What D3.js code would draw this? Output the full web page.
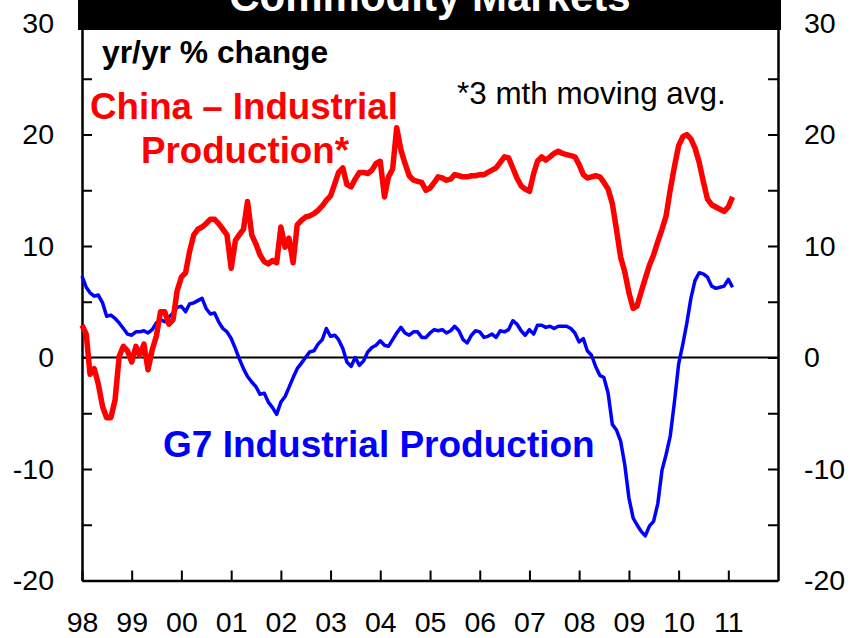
<!DOCTYPE html>
<html>
<head>
<meta charset="utf-8">
<script src="https://cdn.jsdelivr.net/npm/d3@7"></script>
<style>
  body { margin: 0; background: #fff; }
  svg { display: block; font-family: "Liberation Sans", Arial, sans-serif; }
</style>
</head>
<body>
<script>
// monthly, Jan 1998 onwards (yr/yr %, China is a 3 mth moving avg)
const chinaIP = [
  2.9, 2.1, -1.5, -1.0, -2.4, -4.4, -5.4, -5.4, -3.8, 0.1,
  1.0, 0.6, -0.4, 1.0, 0.2, 1.2, -1.1, 0.7, 1.9, 4.1,
  4.1, 3.0, 3.4, 6.0, 7.2, 7.6, 9.5, 11.0, 11.5, 11.7,
  12.0, 12.4, 12.4, 12.0, 11.5, 11.0, 8.0, 10.5, 11.0, 11.5,
  14.0, 11.0, 10.2, 9.2, 8.6, 8.4, 8.7, 8.5, 11.7, 9.9,
  10.7, 8.5, 11.9, 12.3, 12.6, 12.7, 12.9, 13.2, 13.6, 14.1,
  14.5, 15.6, 16.6, 17.0, 15.5, 15.3, 16.0, 16.6, 16.6, 16.5,
  16.8, 17.4, 17.6, 14.4, 16.2, 16.9, 20.6, 18.6, 17.4, 16.3,
  15.9, 15.8, 15.7, 15.0, 15.2, 15.7, 16.2, 16.1, 15.9, 16.0,
  16.4, 16.3, 16.2, 16.2, 16.3, 16.3, 16.4, 16.4, 16.6, 16.8,
  17.0, 17.5, 18.0, 17.9, 17.0, 16.1, 15.4, 15.1, 14.9, 16.5,
  17.6, 18.0, 17.7, 18.0, 18.3, 18.5, 18.3, 18.2, 18.1, 18.0,
  17.3, 16.4, 16.1, 16.2, 16.3, 16.2, 15.7, 15.1, 13.8, 11.5,
  9.0, 7.7, 5.8, 4.4, 4.6, 5.9, 7.1, 8.3, 9.2, 10.4,
  11.5, 12.7, 15.1, 17.1, 19.0, 19.8, 20.0, 19.6, 18.8, 17.5,
  15.8, 14.2, 13.7, 13.5, 13.3, 13.1, 13.5, 14.4
];
const g7IP = [
  7.3, 6.3, 5.8, 5.5, 5.6, 4.9, 3.7, 3.8, 3.5, 3.1,
  2.6, 2.1, 2.0, 2.3, 2.3, 2.4, 2.2, 2.5, 3.1, 3.4,
  3.2, 3.6, 4.0, 4.5, 4.6, 4.1, 4.8, 4.9, 5.1, 5.3,
  4.4, 3.9, 4.0, 3.2, 2.6, 2.3, 1.7, 0.8, -0.1, -1.0,
  -1.7, -2.2, -2.6, -3.3, -3.2, -4.0, -4.5, -5.1, -4.0, -3.5,
  -2.7, -1.8, -1.0, -0.5, 0.0, 0.5, 0.6, 1.2, 1.6, 2.6,
  1.9, 2.0, 1.6, 0.8, -0.4, -0.8, 0.0, -0.7, -0.3, 0.5,
  0.9, 1.1, 1.5, 1.1, 1.0, 1.6, 2.2, 2.7, 2.2, 2.0,
  2.3, 2.3, 1.8, 1.8, 2.2, 2.5, 2.4, 2.5, 2.2, 2.4,
  2.8, 2.4, 1.6, 1.3, 2.0, 2.4, 2.3, 1.8, 1.9, 2.1,
  1.8, 2.4, 2.3, 2.5, 3.3, 3.0, 2.4, 2.0, 2.5, 2.1,
  2.9, 2.9, 2.7, 2.8, 2.6, 2.8, 2.8, 2.8, 2.6, 2.2,
  1.4, 1.7, 0.6, 0.2, -0.8, -1.6, -1.8, -3.2, -6.0, -6.5,
  -7.5, -9.6, -12.6, -14.4, -15.0, -15.6, -16.0, -15.1, -14.7, -13.1,
  -10.1, -8.7, -7.0, -4.0, -0.6, 1.2, 3.0, 5.3, 6.9, 7.6,
  7.5, 7.2, 6.4, 6.2, 6.3, 6.4, 7.0, 6.3
];
const yearLabels = ["98", "99", "00", "01", "02", "03", "04", "05", "06", "07", "08", "09", "10", "11"];
const yTicks = [-20, -10, 0, 10, 20, 30];

function commodity_chart() {
  let width = 852, height = 638;
  let plot = {left: 82, right: 778, top: 23, bottom: 580.5};
  let start = new Date(1998, 0, 1);

  let x = d3.scaleTime()
    .domain([start, new Date(2012, 0, 1)])
    .range([plot.left, plot.right]);
  let y = d3.scaleLinear()
    .domain([-20, 30])
    .range([plot.bottom, plot.top]);

  let svg = d3.select("body").append("svg")
    .attr("width", width)
    .attr("height", height);

  let years = yearLabels.map((d, i) => new Date(1998 + i, 0, 1));

  // left + right axes, ticks every 5 pointing inward
  let minorTicks = d3.range(-20, 31, 5);
  let fmtY = d => yTicks.includes(d) ? d : "";
  let yl = svg.append("g")
    .attr("transform", "translate(" + plot.left + ",0)")
    .call(d3.axisLeft(y).tickValues(minorTicks).tickFormat(fmtY)
      .tickSize(-10).tickSizeOuter(0).tickPadding(28));
  let yr = svg.append("g")
    .attr("transform", "translate(" + plot.right + ",0)")
    .call(d3.axisRight(y).tickValues(minorTicks).tickFormat(fmtY)
      .tickSize(-10).tickSizeOuter(0).tickPadding(26));
  let xa = svg.append("g")
    .attr("transform", "translate(0," + plot.bottom + ")")
    .call(d3.axisBottom(x).tickValues(years).tickFormat((d, i) => yearLabels[i])
      .tickSize(-10).tickSizeOuter(0).tickPadding(31));

  [yl, yr, xa].forEach(g => g.attr("font-size", null).attr("font-family", null));
  svg.selectAll(".domain").attr("stroke", "#000").attr("stroke-width", 2.5);
  svg.selectAll(".tick line").attr("stroke", "#000").attr("stroke-width", 2);
  svg.selectAll(".tick text").attr("fill", "#000").attr("font-size", 28.5);
  xa.selectAll(".tick text").attr("font-size", 28.5);

  // zero line
  svg.append("line")
    .attr("x1", plot.left).attr("x2", plot.right)
    .attr("y1", y(0)).attr("y2", y(0))
    .attr("stroke", "#000").attr("stroke-width", 2);

  let line = d3.line()
    .x((d, i) => x(d3.timeMonth.offset(start, i)))
    .y(d => y(d));

  svg.append("path")
    .datum(g7IP)
    .attr("d", line)
    .attr("fill", "none")
    .attr("stroke", "#0000ff")
    .attr("stroke-width", 3.5)
    .attr("stroke-linejoin", "round");

  svg.append("path")
    .datum(chinaIP)
    .attr("d", line)
    .attr("fill", "none")
    .attr("stroke", "#ff0000")
    .attr("stroke-width", 5.5)
    .attr("stroke-linejoin", "round");

  // title bar
  svg.append("rect")
    .attr("x", 78).attr("y", 0)
    .attr("width", 703).attr("height", 30)
    .attr("fill", "#000");
  svg.append("text")
    .attr("x", 430).attr("y", 11)
    .attr("text-anchor", "middle")
    .attr("font-size", 42).attr("font-weight", "bold")
    .attr("fill", "#fff")
    .text("Commodity Markets");

  // annotations
  svg.append("text")
    .attr("x", 102).attr("y", 63)
    .attr("font-size", 31.8).attr("font-weight", "bold")
    .text("yr/yr % change");
  svg.append("text")
    .attr("x", 457).attr("y", 104)
    .attr("font-size", 31.4)
    .text("*3 mth moving avg.");

  let china = svg.append("text")
    .attr("text-anchor", "middle")
    .attr("font-size", 36.7).attr("font-weight", "bold")
    .attr("fill", "#ff0000");
  china.append("tspan").attr("x", 244).attr("y", 119).text("China \u2013 Industrial");
  china.append("tspan").attr("x", 245).attr("y", 163).text("Production*");

  svg.append("text")
    .attr("x", 163).attr("y", 457)
    .attr("font-size", 37).attr("font-weight", "bold")
    .attr("fill", "#0000ff")
    .text("G7 Industrial Production");
}
commodity_chart();
</script>
</body>
</html>
